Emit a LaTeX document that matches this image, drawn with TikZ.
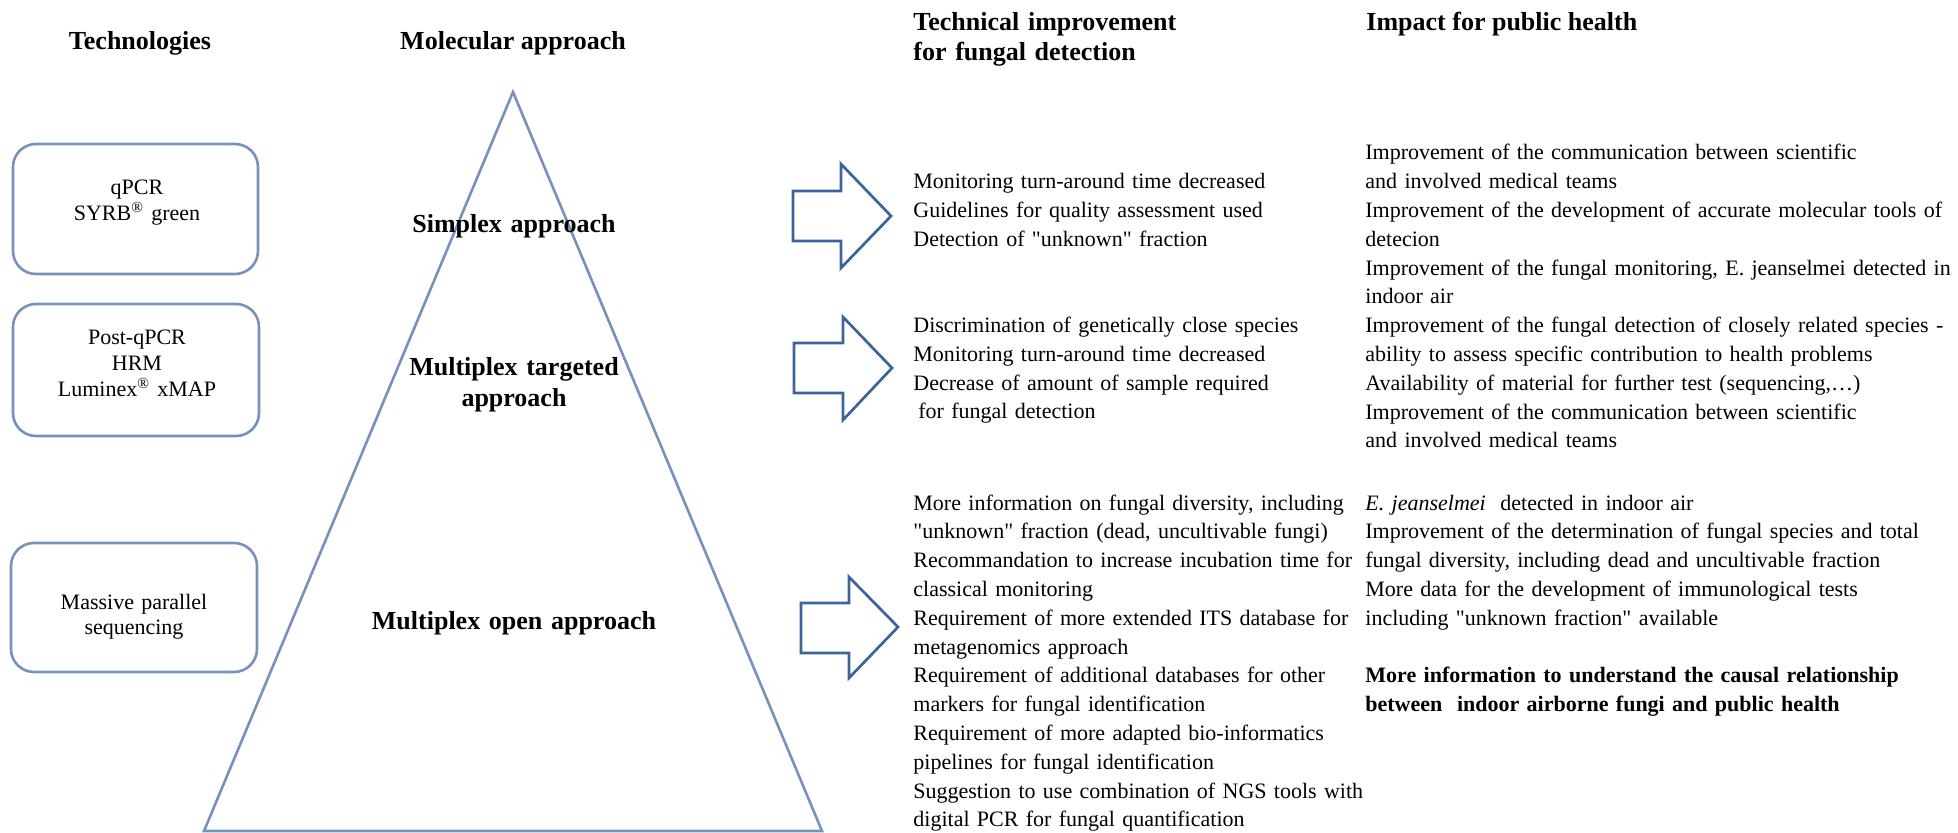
\documentclass[tikz,border=0pt]{standalone}
\usepackage{fontspec}
\setmainfont{Liberation Serif}
\definecolor{lineblue}{RGB}{118,146,188}
\definecolor{arrowblue}{RGB}{60,100,155}
\newcommand{\sq}{\textquotedbl{}}
\begin{document}
\begin{tikzpicture}[x=0.5pt,y=-0.5pt,
  outline/.style={draw=lineblue, line width=1.3pt},
  techbox/.style={outline, rounded corners=11.5pt, inner sep=0pt},
  bigarrow/.style={draw=arrowblue, line width=1.35pt, fill=white, line join=miter},
  body/.style={font=\fontsize{11}{14.4}\selectfont, inner sep=0pt, align=left, text width=310pt, anchor=base west},
  boxtext/.style={font=\fontsize{11}{12.8}\selectfont, inner sep=0pt, align=center, text width=115pt, anchor=base},
  head/.style={font=\fontsize{13}{15}\selectfont\bfseries, inner sep=0pt},
  level/.style={font=\fontsize{13}{15.5}\selectfont\bfseries, inner sep=0pt, align=center, text width=150pt, anchor=base}]
\path[use as bounding box] (0,0) rectangle (1958,833);

% headers
\node[head, anchor=base] (hTech) at (140,50) {Technologies};
\node[head, anchor=base] (hMol) at (513,50) {Molecular approach};
\node[head, align=left, text width=200pt, anchor=base west] (hImp) at (913,30.5) {Technical improvement\\for fungal detection};
\node[head, anchor=base west] (hPub) at (1366,30.5) {Impact for public health};

% technology boxes
\node[techbox, minimum width=122.5pt, minimum height=65pt] (b1) at (135.5,209) {};
\node[techbox, minimum width=123pt, minimum height=66pt] (b2) at (136,370) {};
\node[techbox, minimum width=123pt, minimum height=64.5pt] (b3) at (134,607.5) {};
\node[boxtext] (t1) at (137,195) {qPCR\\SYRB\textsuperscript{\textregistered} green};
\node[boxtext] (t2) at (137,345) {Post-qPCR\\HRM\\Luminex\textsuperscript{\textregistered} xMAP};
\node[boxtext] (t3) at (134,609) {Massive parallel\\sequencing};

% pyramid
\draw[outline, line join=miter] (513,92) -- (822,831) -- (204,831) -- cycle;
\node[level] (l1) at (514,232.5) {Simplex approach};
\node[level] (l2) at (514,375.5) {Multiplex targeted\\approach};
\node[level, text width=200pt] (l3) at (514,629.5) {Multiplex open approach};

% arrows
\draw[bigarrow] (793,191) -- (841,191) -- (841,164) -- (891,216) -- (841,268) -- (841,241) -- (793,241) -- cycle;
\draw[bigarrow] (794,343) -- (843,343) -- (843,317) -- (892,368) -- (843,420) -- (843,393) -- (794,393) -- cycle;
\draw[bigarrow] (801,603) -- (849,603) -- (849,577) -- (898,627) -- (849,678) -- (849,653) -- (801,653) -- cycle;

% technical improvement column
\node[body] (c1) at (913,189) {Monitoring turn-around time decreased\\
Guidelines for quality assessment used\\
Detection of \sq unknown\sq\ fraction};
\node[body] (c2) at (913,332.5) {Discrimination of genetically close species\\
Monitoring turn-around time decreased\\
Decrease of amount of sample required\\
\hspace*{2.5pt}for fungal detection};
\node[body] (c3) at (913,510) {More information on fungal diversity, including\\
\sq unknown\sq\ fraction (dead, uncultivable fungi)\\
Recommandation to increase incubation time for\\
classical monitoring\\
Requirement of more extended ITS database for\\
metagenomics approach\\
Requirement of additional databases for other\\
markers for fungal identification\\
Requirement of more adapted bio-informatics\\
pipelines for fungal identification\\
Suggestion to use combination of NGS tools with\\
digital PCR for fungal quantification};

% public health column
\node[body] (p1) at (1365,160) {Improvement of the communication between scientific\\
and involved medical teams\\
Improvement of the development of accurate molecular tools of\\
detecion\\
Improvement of the fungal monitoring, E. jeanselmei detected in\\
indoor air\\
Improvement of the fungal detection of closely related species -\\
ability to assess specific contribution to health problems\\
Availability of material for further test (sequencing,…)\\
Improvement of the communication between scientific\\
and involved medical teams};
\node[body] (p2) at (1365,510) {\textit{E. jeanselmei}\ \ detected in indoor air\\
Improvement of the determination of fungal species and total\\
fungal diversity, including dead and uncultivable fraction\\
More data for the development of immunological tests\\
including \sq unknown fraction\sq\ available};
\node[body, font=\fontsize{11}{14.4}\selectfont\bfseries] (p3) at (1365,682.8) {More information to understand the causal relationship\\
between\ \ indoor airborne fungi and public health};
\end{tikzpicture}
\end{document}
